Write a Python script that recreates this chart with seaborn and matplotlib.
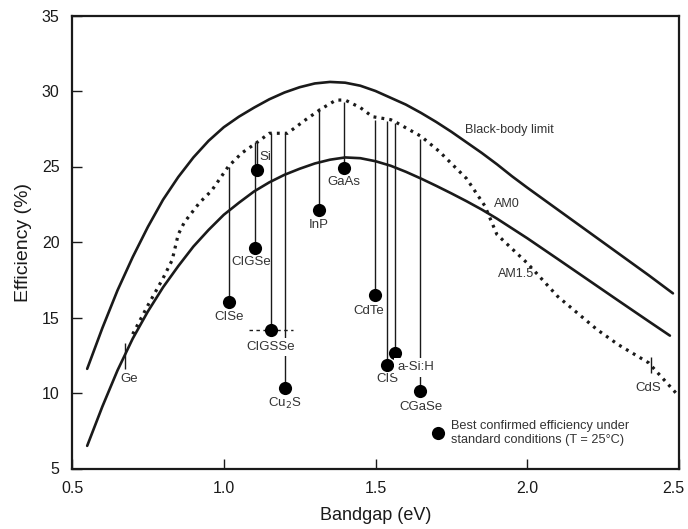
import matplotlib
matplotlib.use("Agg")
import matplotlib.pyplot as plt
import matplotlib.transforms as mtransforms
import seaborn as sns
import pandas as pd

# ---------------- data ----------------
bb_gap = [0.55, 0.60, 0.65, 0.70, 0.75, 0.80, 0.85, 0.90, 0.95, 1.00, 1.05, 1.10, 1.15,
          1.20, 1.25, 1.30, 1.35, 1.40, 1.45, 1.50, 1.55, 1.60, 1.65, 1.70, 1.75, 1.80,
          1.85, 1.90, 1.95, 2.00, 2.10, 2.20, 2.30, 2.40, 2.48]
bb_eff = [11.6, 14.3, 16.8, 19.0, 21.0, 22.8, 24.3, 25.6, 26.7, 27.6, 28.3, 28.9, 29.45,
          29.9, 30.25, 30.5, 30.6, 30.55, 30.35, 30.0, 29.55, 29.1, 28.55, 27.95, 27.3, 26.6,
          25.9, 25.15, 24.35, 23.6, 22.15, 20.7, 19.25, 17.8, 16.6]

am0_gap = [0.55, 0.60, 0.65, 0.70, 0.75, 0.80, 0.85, 0.90, 0.95, 1.00, 1.05, 1.10, 1.15,
           1.20, 1.25, 1.30, 1.35, 1.40, 1.45, 1.50, 1.55, 1.60, 1.65, 1.70, 1.75, 1.80,
           1.85, 1.90, 1.95, 2.00, 2.10, 2.20, 2.30, 2.40, 2.47]
am0_eff = [6.5, 9.1, 11.5, 13.6, 15.4, 17.0, 18.4, 19.7, 20.8, 21.8, 22.6, 23.35, 23.95,
           24.45, 24.85, 25.2, 25.45, 25.6, 25.55, 25.35, 25.05, 24.65, 24.2, 23.72, 23.22, 22.7,
           22.15, 21.55, 20.9, 20.25, 18.88, 17.5, 16.12, 14.75, 13.8]

am15_gap = [0.70, 0.75, 0.80, 0.83, 0.85, 0.87, 0.92, 0.96, 1.015, 1.06, 1.11, 1.15, 1.21,
            1.27, 1.32, 1.37, 1.40, 1.45, 1.49, 1.55, 1.57, 1.65, 1.71, 1.80, 1.86, 1.90,
            2.00, 2.10, 2.23, 2.30, 2.40, 2.49]
am15_eff = [13.9, 15.8, 17.6, 18.8, 20.5, 21.3, 22.6, 23.4, 25.0, 25.9, 26.6, 27.2, 27.2,
            28.1, 28.8, 29.4, 29.4, 28.9, 28.3, 28.1, 27.9, 27.0, 26.0, 24.2, 22.4, 20.5,
            18.6, 16.4, 14.2, 13.2, 12.0, 10.0]

cells      = ["CISe", "CIGSe", "Si", "CIGSSe", "Cu$_2$S", "InP", "GaAs", "CdTe", "CIS", "a-Si:H", "CGaSe"]
cell_gap   = [1.018, 1.103, 1.110, 1.156, 1.202, 1.314, 1.396, 1.498, 1.538, 1.565, 1.647]
cell_eff   = [16.0, 19.6, 24.8, 14.2, 10.3, 22.1, 24.9, 16.5, 11.85, 12.65, 10.1]
cell_top   = [25.0, 26.6, 26.6, 27.2, 27.2, 28.9, 29.3, 28.1, 28.0, 27.9, 26.8]
label_x    = [1.017, 1.090, 1.116, 1.156, 1.200, 1.314, 1.396, 1.479, 1.538, 1.572, 1.650]
label_y    = [15.0, 18.7, 25.6, 13.05, 9.3, 21.1, 24.0, 15.4, 10.9, 11.7, 9.1]
label_ha   = ["center", "center", "left", "center", "center", "center", "center",
              "center", "center", "left", "center"]
label_mask = [False, False, False, True, False, False, False, False, False, True, False]

ref_names = ["Ge", "CdS"]
ref_gap   = [0.674, 2.407]
ref_lo    = [11.6, 11.3]
ref_hi    = [13.3, 12.4]
ref_lx    = [0.658, 2.400]
ref_ly    = [10.9, 10.3]
ref_ha    = ["left", "center"]

cigsse_span = [1.083, 1.228]

curve_names = ["Black-body limit", "AM0", "AM1.5"]
curve_lx    = [1.795, 1.890, 1.904]
curve_ly    = [27.4, 22.5, 17.9]

legend_gap, legend_eff = 1.706, 7.35
legend_text = "Best confirmed efficiency under\nstandard conditions (T = 25\u00b0C)"

x_ticks = [0.5, 1.0, 1.5, 2.0, 2.5]
y_ticks = [5, 10, 15, 20, 25, 30, 35]

# ---------------- plotting ----------------
sns.set_theme(style="white")
plt.rcParams["font.family"] = ["Liberation Sans", "DejaVu Sans"]
ink = "#1a1a1a"
txt = "#333333"

fig = plt.figure(figsize=(6.88, 5.29), dpi=100)
ax = fig.add_axes([72 / 688, 60.5 / 529, 607 / 688, 453 / 529])

bb = pd.DataFrame({"gap": bb_gap, "eff": bb_eff})
am0 = pd.DataFrame({"gap": am0_gap, "eff": am0_eff})
am15 = pd.DataFrame({"gap": am15_gap, "eff": am15_eff})

sns.lineplot(data=bb, x="gap", y="eff", sort=False, estimator=None, color=ink, lw=1.9, ax=ax)
sns.lineplot(data=am0, x="gap", y="eff", sort=False, estimator=None, color=ink, lw=1.9, ax=ax)
sns.lineplot(data=am15, x="gap", y="eff", sort=False, estimator=None, color=ink, lw=2.3,
             linestyle=(0, (0.9, 1.6)), ax=ax)

ax.vlines(cell_gap, cell_eff, cell_top, color=ink, lw=1.0, zorder=3)
ax.vlines(ref_gap, ref_lo, ref_hi, color=ink, lw=1.0, zorder=3)
ax.hlines(cell_eff[3], cigsse_span[0], cigsse_span[1], color=ink, lw=1.0,
          linestyles=(0, (2.5, 2.5)), zorder=3)

cells_df = pd.DataFrame({"gap": cell_gap + [legend_gap], "eff": cell_eff + [legend_eff]})
sns.scatterplot(data=cells_df, x="gap", y="eff", s=90, color="black", edgecolor="black",
                linewidth=0, ax=ax, zorder=5)

for name, lx, ly, ha, mask in zip(cells, label_x, label_y, label_ha, label_mask):
    kw = {}
    if mask:
        kw["bbox"] = dict(facecolor="white", edgecolor="none", pad=2.5)
    ax.text(lx, ly, name, ha=ha, va="center", fontsize=9.5, color=txt, zorder=6, **kw)

for name, lx, ly, ha in zip(ref_names, ref_lx, ref_ly, ref_ha):
    ax.text(lx, ly, name, ha=ha, va="center", fontsize=9.5, color=txt)

for name, lx, ly in zip(curve_names, curve_lx, curve_ly):
    ax.text(lx, ly, name, ha="left", va="center", fontsize=9.1, color=txt)

ax.text(legend_gap + 0.043, legend_eff, legend_text, ha="left", va="center",
        fontsize=9.2, color=txt, linespacing=1.3)

ax.set_xlim(0.5, 2.5)
ax.set_ylim(5, 35)
ax.set_xticks(x_ticks)
ax.set_xticklabels([f"{v:.1f}" for v in x_ticks])
ax.set_yticks(y_ticks)
ax.tick_params(direction="in", length=7, width=1.0, colors=ink, labelsize=11.5,
               left=True, bottom=True, pad=9)
# keep the last x tick label inside the figure, as in the reference
last = ax.get_xticklabels()[-1]
last.set_transform(last.get_transform() + mtransforms.ScaledTranslation(-6 / 100, 0, fig.dpi_scale_trans))

for s in ax.spines.values():
    s.set_color(ink)
    s.set_linewidth(1.6)

ax.set_xlabel("Bandgap (eV)", fontsize=13, color=ink, labelpad=8)
ax.set_ylabel("Efficiency (%)", fontsize=14, color=ink, labelpad=7)

fig.savefig("out.png", dpi=100)
